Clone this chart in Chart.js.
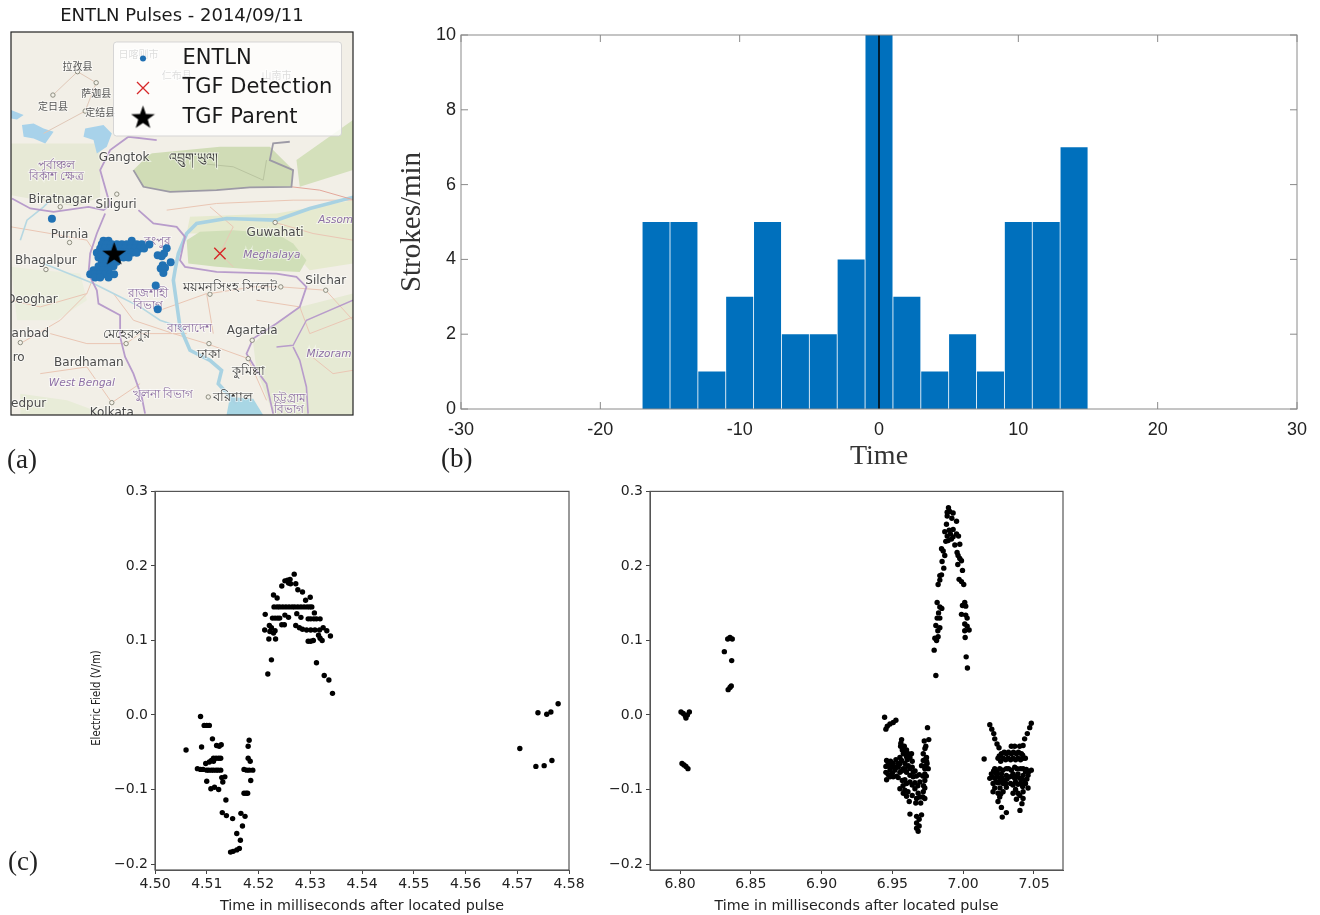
<!DOCTYPE html>
<html>
<head>
<meta charset="utf-8">
<script src="https://cdn.jsdelivr.net/npm/chart.js@4/dist/chart.umd.js"></script>
<style>
html, body { margin: 0; background: #fff; }
#page { position: relative; width: 1320px; height: 915px; overflow: hidden; filter: blur(0.45px); }
canvas { position: absolute; }
.tag { position: absolute; font: 27px "Liberation Serif", serif; color: #222; line-height: 30px; }
</style>
</head>
<body>
<div id="page">
  <canvas id="mapChart" width="370" height="440" style="left:0;top:0"></canvas>
  <canvas id="histChart" width="925" height="473" style="left:395px;top:0"></canvas>
  <canvas id="leftChart" width="510" height="435" style="left:80px;top:480px"></canvas>
  <canvas id="rightChart" width="485" height="435" style="left:600px;top:480px"></canvas>
  <span class="tag" style="left:7px;top:444px">(a)</span>
  <span class="tag" style="left:441px;top:443px">(b)</span>
  <span class="tag" style="left:8px;top:846px">(c)</span>
</div>
<script>
// panel (b) histogram
const binCenters = [-16, -14, -12, -10, -8, -6, -4, -2, 0, 2, 4, 6, 8, 10, 12, 14];
const strokesPerMin = [5, 5, 1, 3, 5, 2, 2, 4, 10, 3, 1, 2, 1, 5, 5, 7];
const histXTicks = [-30, -20, -10, 0, 10, 20, 30];
const histYTicks = [0, 2, 4, 6, 8, 10];
const tgfLineX = [0, 0];
const tgfLineY = [0, 10];

// panel (c) tick labels
const fieldTicks = [-0.2, -0.1, 0, 0.1, 0.2, 0.3];
const leftTimeTicks = [4.50, 4.51, 4.52, 4.53, 4.54, 4.55, 4.56, 4.57, 4.58];
const rightTimeTicks = [6.80, 6.85, 6.90, 6.95, 7.00, 7.05];

// panel (c) left, [time ms, field V/m]
const leftBurstLow = [[4.5060,-.047],[4.5088,-.002],[4.5095,-.014],[4.5100,-.014],[4.5105,-.014],[4.5111,-.032],[4.5090,-.043],
  [4.5119,-.041],[4.5124,-.042],[4.5128,-.040],[4.5182,-.034],[4.5180,-.042],[4.5180,-.058],[4.5184,-.062],
  [4.5113,-.058],[4.5118,-.058],[4.5123,-.058],[4.5127,-.058],[4.5109,-.061],[4.5113,-.062],[4.5105,-.063],[4.5098,-.065],
  [4.5082,-.072],[4.5088,-.073],[4.5093,-.073],[4.5100,-.074],[4.5104,-.074],[4.5109,-.074],[4.5113,-.074],[4.5118,-.074],[4.5122,-.074],[4.5127,-.074],
  [4.5172,-.073],[4.5177,-.074],[4.5182,-.074],[4.5189,-.074],[4.5135,-.083],[4.5129,-.084],[4.5131,-.090],[4.5100,-.089],[4.5185,-.088],
  [4.5108,-.099],[4.5115,-.097],[4.5123,-.100],[4.5172,-.105],[4.5176,-.105],[4.5179,-.105],[4.5137,-.114],
  [4.5130,-.131],[4.5138,-.135],[4.5150,-.139],[4.5166,-.132],[4.5174,-.136],[4.5169,-.149],[4.5158,-.159],[4.5165,-.168],
  [4.5146,-.184],[4.5151,-.183],[4.5158,-.181],[4.5163,-.179]];
const leftBurstHigh = [[4.5269,.189],[4.5261,.182],[4.5256,.181],[4.5251,.180],[4.5245,.173],[4.5258,.177],[4.5262,.176],[4.5272,.176],
  [4.5276,.168],[4.5285,.165],[4.5229,.161],[4.5236,.157],[4.5300,.158],[4.5291,.154],
  [4.5230,.145],[4.5236,.145],[4.5241,.145],[4.5247,.145],[4.5253,.145],[4.5259,.145],[4.5265,.145],[4.5270,.145],[4.5276,.145],[4.5282,.145],[4.5288,.145],[4.5294,.145],[4.5299,.145],[4.5303,.145],
  [4.5213,.135],[4.5274,.136],[4.5227,.130],[4.5232,.130],[4.5237,.130],[4.5241,.130],[4.5251,.134],[4.5258,.131],[4.5282,.131],
  [4.5296,.129],[4.5301,.129],[4.5307,.129],[4.5312,.129],[4.5319,.129],[4.5308,.137],[4.5245,.121],[4.5250,.121],
  [4.5221,.120],[4.5225,.117],[4.5232,.113],[4.5212,.114],[4.5222,.112],[4.5229,.110],
  [4.5272,.120],[4.5279,.117],[4.5285,.115],[4.5293,.114],[4.5301,.114],[4.5309,.114],[4.5318,.114],[4.5325,.117],[4.5332,.113],
  [4.5296,.099],[4.5301,.099],[4.5306,.100],[4.5316,.107],[4.5319,.103],[4.5323,.100],[4.5339,.106],[4.5220,.102],[4.5233,.102],
  [4.5225,.074],[4.5218,.055],[4.5312,.070],[4.5327,.053],[4.5336,.047],[4.5343,.029]];
const leftBurstLate = [[4.5705,-.045],[4.5736,-.069],[4.5752,-.068],[4.5767,-.061],[4.5740,.003],[4.5757,.001],[4.5765,.004],[4.5779,.015]];

// panel (c) right, [time ms, field V/m]
const rightEarly = [[6.8007,.004],[6.8023,.002],[6.8037,-.001],[6.8042,-.004],[6.8052,0],[6.8066,.004],
  [6.8014,-.065],[6.8028,-.067],[6.8042,-.069],[6.8056,-.072],
  [6.8337,.102],[6.8353,.104],[6.8369,.102],[6.8313,.085],[6.8365,.073],[6.8340,.034],[6.8353,.037],[6.8362,.039]];
const rightPeak = [[6.9896,.278],[6.9887,.272],[6.9905,.273],[6.9929,.271],[6.9920,.264],[6.9953,.260],[6.9887,.267],[6.9882,.256],
  [6.9870,.246],[6.9901,.248],[6.9929,.249],[6.9953,.243],[6.9967,.240],[6.9910,.243],[6.9887,.240],[6.9929,.239],[6.9894,.234],[6.9877,.233],[6.9917,.236],
  [6.9976,.229],[6.9941,.228],[6.9847,.223],[6.9859,.220],[6.9870,.214],[6.9957,.218],[6.9964,.214],[6.9976,.210],[6.9988,.207],[6.9851,.206],[6.9962,.202],
  [6.9995,.194],[6.9863,.197],[6.9835,.187],[6.9847,.188],[6.9835,.181],[6.9823,.175],[6.9971,.182],[6.9988,.179],[7.0004,.175],
  [6.9816,.151],[6.9835,.145],[6.9849,.143],[6.9826,.137],[6.9835,.130],[6.9816,.130],[6.9807,.120],[6.9835,.117],[6.9821,.113],[6.9800,.103],[6.9823,.105],[6.9812,.100],[6.9795,.087],[6.9807,.053],
  [7.0011,.151],[6.9995,.147],[7.0018,.146],[6.9988,.135],[7.0018,.134],[7.0028,.130],[7.0011,.122],[7.0028,.119],[7.0042,.114],[7.0011,.113],[7.0014,.104],[7.0021,.078],[7.0030,.063]];
const rightLowA = [[6.9445,-.003],[6.9525,-.007],[6.9506,-.010],[6.9483,-.012],[6.9464,-.015],[6.9454,-.019],[6.9748,-.017],[6.9565,-.033],[6.9757,-.033],[6.9725,-.035],[6.9736,-.042],[6.9558,-.042],[6.9584,-.042],
  [6.9577,-.052],[6.9612,-.052],[6.9635,-.052],[6.9718,-.052],[6.9741,-.057],[6.9553,-.057],[6.9624,-.057],[6.9565,-.061],[6.9718,-.061],[6.9741,-.062],[6.9459,-.061],[6.9487,-.062],
  [6.9506,-.065],[6.9541,-.065],[6.9588,-.065],[6.9612,-.068],[6.9454,-.069],[6.9478,-.069],[6.9506,-.070],[6.9541,-.070],[6.9577,-.072],[6.9624,-.072],[6.9729,-.072],[6.9753,-.072],[6.9706,-.068],
  [6.9454,-.077],[6.9483,-.074],[6.9518,-.074],[6.9553,-.077],[6.9600,-.077],[6.9647,-.077],[6.9729,-.079],[6.9624,-.081],[6.9647,-.083],
  [6.9459,-.087],[6.9483,-.083],[6.9506,-.083],[6.9541,-.084],[6.9588,-.087],[6.9624,-.090],[6.9659,-.091],[6.9694,-.090],[6.9729,-.088],
  [6.9553,-.099],[6.9588,-.101],[6.9659,-.099],[6.9729,-.098],[6.9577,-.105],[6.9600,-.109],[6.9682,-.105],[6.9718,-.103],[6.9619,-.116],[6.9671,-.112],[6.9694,-.110],[6.9729,-.112],
  [6.9624,-.133],[6.9671,-.136],[6.9706,-.134],[6.9689,-.140],[6.9671,-.145],[6.9689,-.149],[6.9671,-.152],[6.9682,-.156],
  [6.9470,-.066],[6.9495,-.068],[6.9525,-.060],[6.9530,-.070],[6.9550,-.066],[6.9565,-.075],[6.9590,-.072],[6.9605,-.060],[6.9600,-.056],[6.9640,-.062],[6.9640,-.070],[6.9660,-.075],[6.9670,-.082],[6.9690,-.080],[6.9715,-.082],[6.9740,-.082],
  [6.9470,-.080],[6.9500,-.078],[6.9530,-.082],[6.9570,-.088],[6.9600,-.092],[6.9640,-.094],[6.9680,-.095],[6.9720,-.095],[6.9745,-.065],[6.9730,-.060],[6.9590,-.050],[6.9600,-.047],[6.9570,-.047],[6.9560,-.038],[6.9730,-.045],[6.9735,-.068],[6.9575,-.095],[6.9610,-.103],[6.9640,-.108],[6.9665,-.118],[6.9700,-.118],[6.9715,-.110]];
const rightLowB = [[7.0188,-.013],[7.0202,-.019],[7.0216,-.025],[7.0223,-.032],[7.0239,-.039],[7.0253,-.044],[7.0481,-.011],[7.0470,-.017],[7.0453,-.025],[7.0434,-.032],[7.0423,-.041],
  [7.0148,-.059],[7.0340,-.042],[7.0364,-.042],[7.0399,-.042],[7.0270,-.052],[7.0305,-.052],[7.0340,-.052],[7.0376,-.052],[7.0411,-.052],
  [7.0246,-.058],[7.0282,-.058],[7.0317,-.058],[7.0352,-.058],[7.0387,-.058],[7.0423,-.058],[7.0439,-.058],
  [7.0223,-.072],[7.0258,-.072],[7.0305,-.072],[7.0364,-.070],[7.0423,-.072],[7.0446,-.073],[7.0481,-.074],
  [7.0199,-.079],[7.0235,-.079],[7.0270,-.079],[7.0305,-.081],[7.0352,-.079],[7.0387,-.079],[7.0423,-.081],[7.0458,-.081],
  [7.0188,-.085],[7.0223,-.085],[7.0258,-.085],[7.0293,-.088],[7.0329,-.083],[7.0364,-.085],[7.0399,-.085],[7.0434,-.088],
  [7.0211,-.092],[7.0246,-.091],[7.0282,-.092],[7.0352,-.094],[7.0387,-.093],[7.0223,-.098],[7.0211,-.103],[7.0246,-.105],[7.0282,-.103],[7.0305,-.097],
  [7.0352,-.105],[7.0387,-.105],[7.0423,-.103],[7.0458,-.098],[7.0258,-.110],[7.0246,-.116],[7.0376,-.113],[7.0423,-.112],[7.0415,-.119],[7.0270,-.124],[7.0401,-.128],[7.0305,-.131],[7.0276,-.137],
  [7.0255,-.055],[7.0290,-.050],[7.0320,-.050],[7.0355,-.050],[7.0390,-.050],[7.0420,-.054],[7.0265,-.062],[7.0300,-.060],[7.0335,-.060],[7.0370,-.060],[7.0405,-.060],
  [7.0215,-.075],[7.0240,-.076],[7.0280,-.074],[7.0320,-.072],[7.0340,-.074],[7.0380,-.072],[7.0405,-.072],[7.0440,-.076],[7.0465,-.076],[7.0205,-.083],[7.0240,-.082],[7.0275,-.084],[7.0310,-.086],[7.0345,-.082],[7.0380,-.082],[7.0415,-.086],[7.0450,-.086],
  [7.0235,-.090],[7.0265,-.090],[7.0300,-.092],[7.0335,-.092],[7.0370,-.090],[7.0405,-.092],[7.0440,-.092],[7.0260,-.098],[7.0420,-.096],[7.0370,-.100],[7.0265,-.106],[7.0400,-.108]];

// panel (a), everything below is in map grid units
const entlnStrokes = [[310,722],[325,722],[395,722],
  [305,732],[320,732],[335,732],[350,732],[365,732],[380,732],[395,732],[410,732],[425,732],
  [300,745],[315,745],[330,745],[345,745],[360,745],[375,745],[390,745],[405,745],[420,745],[432,745],
  [290,758],[305,758],[320,758],[335,758],[350,758],[365,758],[380,758],[395,758],[410,758],
  [295,772],[310,772],[325,772],[340,772],[355,772],[370,772],[385,772],
  [305,785],[320,785],[335,785],[350,785],[295,798],[310,798],[325,798],[340,798],
  [280,810],[295,810],[310,810],[325,810],[270,822],[285,822],[300,822],[315,822],[330,822],[342,822],[285,832],[300,832],[325,832],
  [155,656],[448,733],[500,744],[473,765],[485,768],[492,760],[488,795],[482,805],[495,803],[490,818],[512,786],[467,856],[473,927]];
const tgfDetection = [[660,760]];
const tgfParent = [[342,760]];
const citySpots = [[826,667],[350,582],[208,727],[137,808],[60,1027],[627,1030],[757,1020],[745,1075],[335,1207],[625,1190],[978,870],[843,860],[630,882],[378,1030],[180,620],[232,215],[288,248],[158,285],[255,333]];

const greenNepal = [[32,430],[300,430],[300,590],[230,620],[32,585]];
const greenBhutan = [[400,510],[450,460],[560,450],[660,440],[810,440],[880,510],[875,560],[750,562],[650,570],[510,575],[430,560]];
const greenArunachal = [[890,480],[1060,360],[1060,510],[900,560]];
const greenAssam = [[570,650],[830,640],[1060,600],[1060,790],[930,810],[830,700],[560,700]];
const greenMeghalaya = [[560,720],[600,695],[700,690],[830,700],[880,730],[920,780],[900,815],[790,810],[650,800],[565,790]];
const greenEast = [[760,1030],[830,970],[900,920],[1060,880],[1060,1244],[820,1240],[770,1110]];
const greenWest = [[32,800],[120,810],[240,820],[260,900],[170,960],[50,960]];
const greenSouth = [[60,1180],[200,1200],[320,1244],[60,1244]];
const lakeWest = [[32,330],[70,345],[50,358],[32,355]];
const lakeNorth = [[65,375],[100,370],[130,385],[160,395],[135,430],[100,415],[70,410]];
const lakeEast = [[255,385],[310,375],[335,400],[320,440],[290,460],[280,420],[250,410]];
const deltaWater = [[690,1190],[760,1195],[790,1244],[680,1244]];

const riverMain = [[1065,590],[930,625],[830,660],[680,655],[590,670],[560,700],[535,760],[525,810],[520,840],[540,980],[570,1050],[630,1080],[665,1110],[655,1150],[710,1210]];
const riverGanges = [[130,790],[280,850],[340,880],[420,920],[480,960],[540,980]];
const riverKosi = [[60,720],[80,660],[130,620],[150,600]];
const borderNepal = [[35,595],[90,625],[160,635],[265,620],[310,630],[330,615],[300,510],[330,450],[385,410],[470,420]];
const borderBhutan = [[400,510],[430,560],[510,575],[650,570],[750,562],[875,560],[880,510],[810,480],[820,430],[870,425]];
const borderEastPink = [[875,560],[960,570],[1065,600]];
const borderBangla = [[415,630],[460,670],[530,680],[555,710],[540,780],[555,800],[650,815],[830,820],[890,830],[920,860],[900,920],[830,970],[760,1015],[740,1060],[770,1110],[800,1150],[820,1240]];
const borderBanglaWest = [[315,640],[290,700],[270,760],[265,820],[290,870],[295,910],[360,945],[360,1010],[375,1070],[400,1120],[425,1190],[435,1240]];
const borderManipur = [[880,1040],[900,1080],[920,1160],[925,1240]];
const borderManipurTop = [[830,1040],[880,1035],[920,960],[1060,900]];
const roadA = [[32,680],[150,700],[260,720],[300,780],[260,880],[180,960],[60,1030]];
const roadB = [[340,880],[400,960],[520,1000],[620,1030],[745,1075],[800,1200]];
const roadC = [[630,880],[760,860],[843,860],[978,870],[1060,960]];
const roadD = [[826,667],[940,700],[1060,720]];
const roadE = [[158,285],[232,215],[288,248],[255,333],[130,400]];
const roadF = [[32,900],[120,920],[260,880]];
const roadG = [[150,1000],[260,1030],[378,1030],[420,1000],[560,1000]];
const roadH = [[120,1120],[260,1100],[335,1207],[420,1150]];
const roadI = [[480,930],[620,880],[640,1000]];
const roadJ = [[770,900],[900,920],[930,1000],[1060,950]];
const roadK = [[925,1060],[1000,1120],[1060,1110]];
const roadL = [[500,630],[650,610],[880,600],[1060,600]];
const roadM = [[630,620],[700,680],[660,760],[700,800]];
const roadN = [[800,480],[790,540],[700,500],[600,490]];

const cityNames = ["Gangtok", "Biratnagar", "Siliguri", "Purnia", "Bhagalpur", "Deoghar", "anbad", "ro", "Guwahati", "Silchar", "Agartala", "Bardhaman", "edpur", "Kolkata"];
const cityX = [372, 180, 348, 208, 137, 95, 90, 55, 826, 978, 757, 266, 85, 335];
const cityY = [472, 600, 615, 705, 782, 900, 1000, 1072, 697, 843, 993, 1087, 1210, 1238];
const regionNames = ["Assom", "Meghalaya", "West Bengal", "Mizoram"];
const regionX = [1008, 816, 245, 988];
const regionY = [660, 765, 1150, 1062];
const cjkNames = ["拉孜县", "萨迦县", "定日县", "定结县", "日喀则市", "仁布县", "山南市"];
const cjkX = [232, 288, 158, 300, 415, 530, 830];
const cjkY = [198, 278, 318, 337, 162, 225, 225];
const bengaliCities = ["ময়মনসিংহ", "সিলেট", "মেহেরপুর", "ঢাকা", "কুমিল্লা", "বরিশাল", "འབྲུག་ཡུལ།"];
const bengaliCityX = [632, 778, 378, 627, 745, 700, 580];
const bengaliCityY = [862, 862, 1003, 1062, 1112, 1192, 475];
const bengaliRegions = ["পূর্বাঞ্চল", "বিকাশ ক্ষেত্র", "রাজশাহী", "বিভাগ", "বাংলাদেশ", "খুলনা বিভাগ", "চট্টগ্রাম", "বিভাগ", "রংপুর"];
const bengaliRegionX = [170, 170, 445, 445, 570, 488, 868, 868, 472];
const bengaliRegionY = [497, 528, 880, 915, 985, 1182, 1195, 1228, 724];
const legendLabels = ["ENTLN", "TGF Detection", "TGF Parent"];

const pts = list => list.map(([x, y]) => ({ x, y }));

// filled star, the built in 'star' style is only an asterisk
function makeStar(size) {
    const c = document.createElement('canvas');
    c.width = c.height = size;
    const g = c.getContext('2d');
    g.fillStyle = '#000';
    g.beginPath();
    for (let i = 0; i < 10; i++) {
        const r = i % 2 ? size * 0.2 : size * 0.5;
        const a = -Math.PI / 2 + i * Math.PI / 5;
        g.lineTo(size / 2 + r * Math.cos(a), size / 2 + 1 + r * Math.sin(a));
    }
    g.closePath();
    g.fill();
    return c;
}
const starImg = makeStar(25);

// all four spines
const frameBox = {
    id: 'frameBox',
    afterDraw(chart, args, opts) {
        const { ctx, chartArea: a } = chart;
        ctx.save();
        ctx.strokeStyle = opts.color;
        ctx.lineWidth = opts.width;
        ctx.strokeRect(a.left, a.top, a.right - a.left, a.bottom - a.top);
        ctx.restore();
    }
};

// MATLAB style ticks pointing into the axes, on all sides, hidden behind the bars
const insideTicks = {
    id: 'insideTicks',
    beforeDatasetsDraw(chart) {
        const { ctx, chartArea: a, scales } = chart;
        ctx.save();
        ctx.strokeStyle = '#8a8a8a';
        ctx.lineWidth = 1;
        ctx.beginPath();
        histXTicks.forEach(v => {
            const x = scales.x.getPixelForValue(v);
            ctx.moveTo(x, a.bottom); ctx.lineTo(x, a.bottom - 7);
            ctx.moveTo(x, a.top); ctx.lineTo(x, a.top + 7);
        });
        histYTicks.forEach(v => {
            const y = scales.y.getPixelForValue(v);
            ctx.moveTo(a.left, y); ctx.lineTo(a.left + 7, y);
            ctx.moveTo(a.right, y); ctx.lineTo(a.right - 7, y);
        });
        ctx.stroke();
        ctx.restore();
    }
};

// the axis title in the source sits lower than the middle of the axis and is squeezed
const fieldTitle = {
    id: 'fieldTitle',
    afterDraw(chart) {
        const ctx = chart.ctx;
        ctx.save();
        ctx.translate(17, 218);
        ctx.rotate(-Math.PI / 2);
        ctx.scale(0.78, 1);
        ctx.font = '13px "DejaVu Sans"';
        ctx.fillStyle = '#222';
        ctx.textAlign = 'center';
        ctx.textBaseline = 'middle';
        ctx.fillText('Electric Field (V/m)', 0, 0);
        ctx.restore();
    }
};

// place names sit on the base map, below the lightning marks
const mapText = {
    id: 'mapText',
    afterDatasetDraw(chart, args) {
        if (args.index !== 3) return;
        const { ctx, scales: { x, y } } = chart;
        const put = (names, xs, ys, font, color) => {
            ctx.font = font;
            names.forEach((n, i) => {
                const px = x.getPixelForValue(xs[i]), py = y.getPixelForValue(ys[i]);
                ctx.strokeStyle = 'rgba(255,255,255,0.55)';
                ctx.lineWidth = 2;
                ctx.strokeText(n, px, py);
                ctx.fillStyle = color;
                ctx.fillText(n, px, py);
            });
        };
        ctx.save();
        ctx.beginPath();
        ctx.rect(chart.chartArea.left, chart.chartArea.top, chart.chartArea.width, chart.chartArea.height);
        ctx.clip();
        ctx.textAlign = 'center';
        ctx.textBaseline = 'middle';
        put(cjkNames, cjkX, cjkY, '10px "Noto Sans CJK SC"', '#555');
        put(bengaliRegions, bengaliRegionX, bengaliRegionY, '12px "Noto Sans", "DejaVu Sans"', '#8a6b9f');
        put(bengaliCities, bengaliCityX, bengaliCityY, '12.5px "Noto Sans", "DejaVu Sans"', '#3a3a3a');
        put(cityNames, cityX, cityY, '12px "DejaVu Sans"', '#4c4c4c');
        put(regionNames, regionX, regionY, 'italic 10.5px "DejaVu Sans"', '#8d6fa5');
        ctx.restore();
    }
};

// legend over the map
const mapLegend = {
    id: 'mapLegend',
    afterDraw(chart) {
        const ctx = chart.ctx;
        ctx.save();
        ctx.fillStyle = 'rgba(255,255,255,0.8)';
        ctx.strokeStyle = 'rgba(210,210,210,0.9)';
        ctx.beginPath();
        ctx.roundRect(113.5, 42, 228, 94, 3);
        ctx.fill();
        ctx.stroke();
        ctx.fillStyle = '#1f6fb2';
        ctx.beginPath();
        ctx.arc(143, 58.5, 3, 0, 7);
        ctx.fill();
        ctx.strokeStyle = '#d62728';
        ctx.lineWidth = 1.3;
        ctx.beginPath();
        ctx.moveTo(137, 82); ctx.lineTo(149, 94);
        ctx.moveTo(149, 82); ctx.lineTo(137, 94);
        ctx.stroke();
        ctx.drawImage(starImg, 130.5, 104.5);
        ctx.fillStyle = '#1a1a1a';
        ctx.font = '21px "DejaVu Sans"';
        ctx.textBaseline = 'middle';
        legendLabels.forEach((t, i) => ctx.fillText(t, 182.5, [59, 88, 118][i]));
        ctx.restore();
    }
};

const thinLine = (list, color, width) => ({ data: pts(list), showLine: true, borderColor: color, borderWidth: width, pointRadius: 0, tension: 0, fill: false });
const patch = (list, color) => ({ data: pts(list), showLine: true, borderWidth: 0, borderColor: 'transparent', backgroundColor: color, pointRadius: 0, tension: 0, fill: 'shape' });

const ROAD = '#eac6b4';
const BORDER = '#b89ccb';

new Chart(document.getElementById('mapChart'), {
    type: 'scatter',
    data: {
        // first dataset ends up on top
        datasets: [
            { data: pts(tgfParent), pointStyle: starImg, pointRadius: 12, backgroundColor: '#000' },
            { data: pts(tgfDetection), pointStyle: 'crossRot', pointRadius: 8, borderColor: '#d62728', borderWidth: 1.4, backgroundColor: '#d62728' },
            { data: pts(entlnStrokes), pointRadius: 4, pointBorderWidth: 0, backgroundColor: '#2172b4' },
            { data: pts(citySpots), pointRadius: 2.2, pointBorderWidth: 1, borderColor: '#8d8d80', backgroundColor: '#f3f1e8' },
            thinLine(borderBhutan, '#9d9aa6', 1.8), thinLine(borderNepal, BORDER, 1.8), thinLine(borderBangla, BORDER, 1.8), thinLine(borderBanglaWest, BORDER, 1.8), thinLine(borderManipur, BORDER, 1.6), thinLine(borderManipurTop, BORDER, 1.4),
            thinLine(borderEastPink, '#e3a79b', 1),
            thinLine(riverMain, '#a9d2e2', 3.6), thinLine(riverGanges, '#b6d8e2', 1.6), thinLine(riverKosi, '#b6d8e2', 1.6),
            thinLine(roadA, ROAD, 1), thinLine(roadB, ROAD, 1), thinLine(roadC, ROAD, 1), thinLine(roadD, ROAD, 1), thinLine(roadE, '#e0c8b8', 1), thinLine(roadF, ROAD, 1), thinLine(roadG, ROAD, 1), thinLine(roadH, ROAD, 1), thinLine(roadI, ROAD, 1), thinLine(roadJ, ROAD, 1), thinLine(roadK, ROAD, 1), thinLine(roadL, ROAD, 1), thinLine(roadM, ROAD, 1), thinLine(roadN, '#b9c4a0', 1),
            patch(lakeWest, '#a8d2ea'), patch(lakeNorth, '#a8d2ea'), patch(lakeEast, '#a8d2ea'), patch(deltaWater, '#a8d6e4'),
            patch(greenMeghalaya, '#d0dfb8'), patch(greenBhutan, '#d0dcb6'), patch(greenArunachal, '#d4e0bb'), patch(greenAssam, '#e6eacf'), patch(greenEast, '#e6ead4'), patch(greenNepal, '#e7e9d6'), patch(greenWest, '#ebeedd'), patch(greenSouth, '#e8ecd8')
        ]
    },
    options: {
        responsive: false,
        animation: false,
        layout: { autoPadding: false, padding: { left: 11, right: 17, bottom: 25 } },
        scales: {
            x: { display: false, min: 32, max: 1060 },
            y: { display: false, min: 96, max: 1244, reverse: true }
        },
        plugins: {
            legend: { display: false },
            tooltip: { enabled: false },
            title: { display: true, text: 'ENTLN Pulses - 2014/09/11', color: '#1a1a1a', font: { family: 'DejaVu Sans', size: 18, weight: 'normal', lineHeight: 1.2 }, padding: { top: 6, bottom: 4.4 } },
            frameBox: { color: '#222', width: 1.2 }
        }
    },
    plugins: [{
        id: 'mapPaper',
        beforeDraw(chart) {
            const { ctx, chartArea: a } = chart;
            ctx.fillStyle = '#f2efe7';
            ctx.fillRect(a.left, a.top, a.right - a.left, a.bottom - a.top);
        }
    }, mapText, frameBox, mapLegend]
});

new Chart(document.getElementById('histChart'), {
    type: 'bar',
    data: {
        datasets: [
            { type: 'line', data: tgfLineX.map((x, i) => ({ x, y: tgfLineY[i] })), borderColor: '#000', borderWidth: 1.5, pointRadius: 0, order: 0 },
            { data: binCenters.map((x, i) => ({ x, y: strokesPerMin[i] })), backgroundColor: '#0070bd', barPercentage: 0.97, categoryPercentage: 1, order: 1 }
        ]
    },
    options: {
        responsive: false,
        animation: false,
        layout: { autoPadding: false, padding: { top: 35, right: 23 } },
        scales: {
            x: {
                type: 'linear', min: -30, max: 30, offset: false,
                grid: { display: false, drawTicks: false, offset: false },
                border: { display: false },
                afterFit: s => { s.height = 64; },
                afterBuildTicks: s => { s.ticks = histXTicks.map(value => ({ value })); },
                ticks: { color: '#222', font: { family: 'Liberation Sans', size: 18 }, padding: 10, maxRotation: 0, autoSkip: false },
                title: { display: true, text: 'Time', color: '#333', font: { family: 'Liberation Serif', size: 28 }, padding: 0 }
            },
            y: {
                min: 0, max: 10,
                grid: { display: false, drawTicks: false },
                border: { display: false },
                afterFit: s => { s.width = 66; },
                afterBuildTicks: s => { s.ticks = histYTicks.map(value => ({ value })); },
                ticks: { color: '#222', font: { family: 'Liberation Sans', size: 18 }, padding: 5 },
                title: { display: true, text: 'Strokes/min', color: '#333', font: { family: 'Liberation Serif', size: 29 }, padding: 0 }
            }
        },
        plugins: {
            legend: { display: false },
            tooltip: { enabled: false },
            frameBox: { color: '#8a8a8a', width: 1 }
        }
    },
    plugins: [frameBox, insideTicks]
});

function fieldChart(id, series, timeTicks, xMin, xMax, pad, yWidth, extra) {
    return new Chart(document.getElementById(id), {
        type: 'scatter',
        data: { datasets: series.map(s => ({ data: pts(s), backgroundColor: '#000', pointRadius: 2.7, pointBorderWidth: 0 })) },
        options: {
            responsive: false,
            animation: false,
            layout: { autoPadding: false, padding: { top: 9, right: pad } },
            scales: {
                x: {
                    type: 'linear', min: xMin, max: xMax,
                    grid: { drawOnChartArea: false, tickLength: 4, tickColor: '#444' },
                    border: { color: '#555' },
                    afterFit: s => { s.height = 45; },
                    afterBuildTicks: s => { s.ticks = timeTicks.map(value => ({ value })); },
                    ticks: { color: '#222', font: { family: 'DejaVu Sans', size: 14 }, padding: 2, maxRotation: 0, autoSkip: false, callback: v => v.toFixed(2) },
                    title: { display: true, text: 'Time in milliseconds after located pulse', color: '#222', font: { family: 'DejaVu Sans', size: 14.3 }, padding: 0 }
                },
                y: {
                    min: -0.208, max: 0.3,
                    grid: { drawOnChartArea: false, tickLength: 4, tickColor: '#444' },
                    border: { color: '#555' },
                    afterFit: s => { s.width = yWidth; },
                    afterBuildTicks: s => { s.ticks = fieldTicks.map(value => ({ value })); },
                    ticks: { color: '#222', font: { family: 'DejaVu Sans', size: 14 }, padding: 3, callback: v => v.toFixed(1).replace('-', '\u2212') }
                }
            },
            plugins: {
                legend: { display: false },
                tooltip: { enabled: false },
                frameBox: { color: '#555', width: 1.2 }
            }
        },
        plugins: [frameBox].concat(extra)
    });
}

fieldChart('leftChart', [leftBurstLow, leftBurstHigh, leftBurstLate], leftTimeTicks, 4.50, 4.58, 21, 75, [fieldTitle]);
fieldChart('rightChart', [rightEarly, rightPeak, rightLowA, rightLowB], rightTimeTicks, 6.7788, 7.0705, 22, 50, []);
</script>
</body>
</html>
